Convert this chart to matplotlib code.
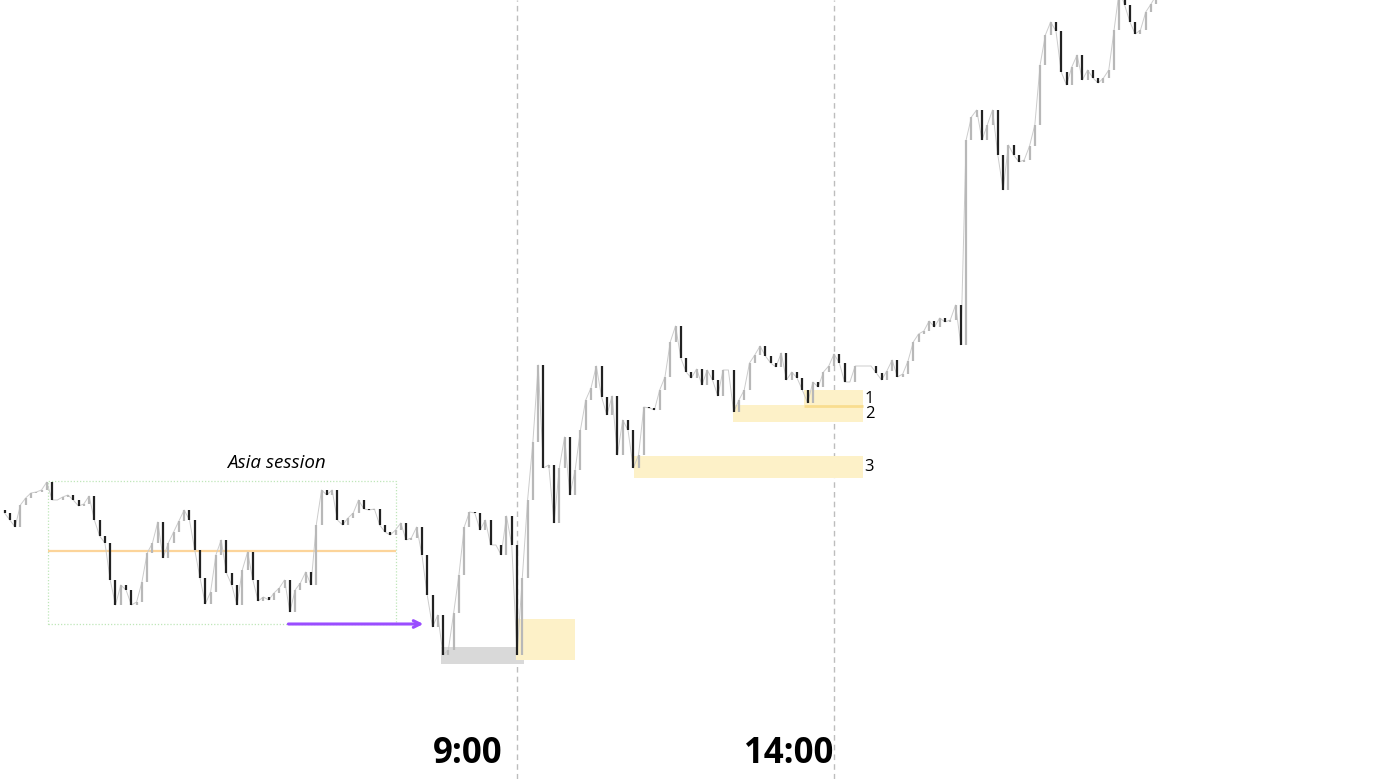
"""Intraday 5-min candles with Asia session range and marked zones."""
import numpy as np
import matplotlib
matplotlib.use('Agg')
import matplotlib.pyplot as plt
from matplotlib.patches import Rectangle

# --- closes, in pips above 1.0000 (5-minute bars from 00:55) ---
close_pips = [
    487, 480, 473, 495, 502, 507, 508, 510, 518, 500,
    500, 503, 505, 500, 494, 496, 504, 480, 464, 457,
    420, 395, 415, 410, 395, 398, 418, 447, 457, 478,
    442, 457, 468, 479, 490, 480, 450, 422, 396, 408,
    445, 460, 427, 415, 395, 430, 448, 420, 399, 403,
    400, 407, 412, 420, 388, 410, 417, 428, 415, 475,
    510, 505, 510, 480, 475, 482, 487, 500, 491, 490,
    491, 475, 468, 465, 470, 477, 460, 462, 473, 445,
    405, 373, 385, 345, 350, 387, 425, 473, 488, 487,
    470, 480, 455, 455, 445, 484, 455, 345, 422, 500,
    558, 635, 532, 535, 477, 532, 563, 505, 530, 570,
    600, 612, 634, 603, 585, 604, 545, 580, 570, 532,
    545, 593, 592, 590, 610, 623, 658, 674, 642, 628,
    622, 631, 615, 630, 620, 604, 630, 630, 588, 600,
    610, 637, 645, 654, 644, 637, 633, 647, 620, 628,
    622, 610, 597, 618, 613, 628, 634, 646, 637, 618,
    618, 634, 634, 634, 634, 627, 620, 629, 640, 623,
    626, 639, 658, 666, 669, 679, 673, 682, 678, 680,
    695, 655, 860, 883, 890, 860, 875, 890, 845, 810,
    855, 845, 838, 840, 854, 875, 935, 965, 978, 969,
    928, 915, 933, 945, 920, 930, 922, 917, 922, 930,
    970, 1010, 995, 978, 966, 970, 988, 996, 1005, 1015,
]
first_open_pips = 490

# session / zone levels (pips) and times (minutes after midnight)
asia_start, asia_end = 96, 425
asia_high, asia_low, asia_mid = 519, 376, 449
sweep_from, sweep_to = 321, 454

grey_zone = (468, 547, 336, 353)     # t0, t1, lo, hi
open_zone = (539, 595, 340, 381)
zones = {                            # label: (t0, t1, lo, hi)
    '1': (812, 867, 594, 610),
    '2': (744, 867, 578, 595),
    '3': (651, 867, 522, 544),
}
zone_label_y = {'1': 601, '2': 586, '3': 533}
session_lines = [540, 840]
session_labels = ['9:00', '14:00']
session_label_x = [493, 797]

def px(p):
    return 1.0 + np.asarray(p) / 10000.0

close = px(close_pips)
open_ = np.concatenate([[px(first_open_pips)], close[:-1]])
times = 55 + 5 * np.arange(len(close))

fig = plt.figure(figsize=(13.85, 7.79), dpi=100)
ax = fig.add_axes([0, 0, 1, 1])
ax.set_xlim(50.7, 1361.4)
ax.set_ylim(px(221), px(1000))
ax.axis('off')

# session dividers
for t in session_lines:
    ax.axvline(t, color='#bdbdbd', linestyle=(0, (4, 3)), linewidth=1, zorder=1)

# Asia range box
ax.add_patch(Rectangle((asia_start, px(asia_low)), asia_end - asia_start,
                       px(asia_high) - px(asia_low), fill=False,
                       edgecolor='#bfe6b8', linestyle=(0, (1, 1.5)), linewidth=0.9, zorder=1))
ax.hlines(px(asia_mid), asia_start, asia_end, color='#fcd49a', linewidth=1.6, zorder=1)
ax.text((asia_start + asia_end) / 2 + 52, px(asia_high) + 0.0018, 'Asia session',
        fontfamily='Open Sans', fontstyle='italic', fontsize=13.5, ha='center', va='center')

# zones
t0, t1, lo, hi = grey_zone
ax.add_patch(Rectangle((t0, px(lo)), t1 - t0, px(hi) - px(lo), color='#d9d9d9', lw=0, zorder=1))
t0, t1, lo, hi = open_zone
ax.add_patch(Rectangle((t0, px(lo)), t1 - t0, px(hi) - px(lo), color='#fdf1c8', lw=0, zorder=1))
for name, (t0, t1, lo, hi) in zones.items():
    ax.add_patch(Rectangle((t0, px(lo)), t1 - t0, px(hi) - px(lo), color='#fdf1c8', lw=0, zorder=1))
    ax.text(t1 + 2, px(zone_label_y[name]), name, fontfamily='Open Sans', fontsize=12,
            ha='left', va='center')
ax.hlines(px(zones['1'][2]), zones['1'][0], zones['1'][1], color='#f9dd8f', linewidth=2, zorder=1)

# sweep arrow
ax.annotate('', xy=(sweep_to, px(asia_low)), xytext=(sweep_from, px(asia_low)),
            arrowprops=dict(arrowstyle='->', color='#9a4dff', lw=2.2, mutation_scale=12), zorder=3)

# candles
ax.plot(times, close, color='#cccccc', linewidth=0.7, zorder=2)
up = close >= open_
ax.vlines(times[up], open_[up], close[up], color='#b8b8b8', linewidth=1.6, zorder=2)
ax.vlines(times[~up], open_[~up], close[~up], color='#222222', linewidth=1.6, zorder=2)

for x, lab in zip(session_label_x, session_labels):
    ax.text(x, px(221 + 25), lab, fontfamily='Open Sans', fontweight='bold',
            fontsize=25, ha='center', va='center')

fig.savefig('out.png', dpi=100, facecolor='white')
